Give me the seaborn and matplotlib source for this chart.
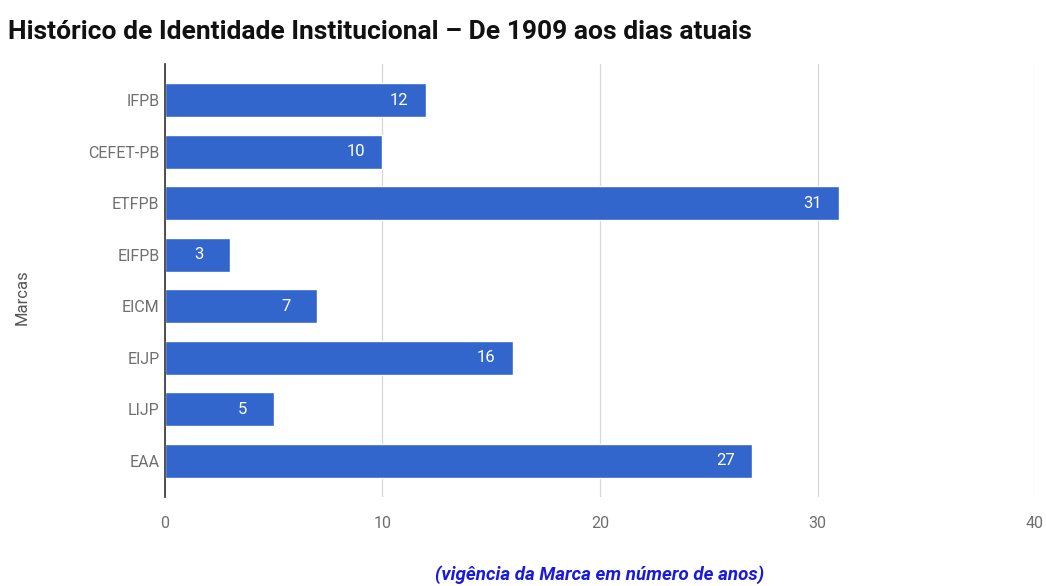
import matplotlib
matplotlib.use("Agg")
import matplotlib.pyplot as plt
import seaborn as sns
import pandas as pd

categories = ["IFPB", "CEFET-PB", "ETFPB", "EIFPB", "EICM", "EIJP", "LIJP", "EAA"]
values = [12, 10, 31, 3, 7, 16, 5, 27]
xticks = [0, 10, 20, 30, 40]

sns.set_theme(style="white")
plt.rcParams['font.family'] = ['Roboto', 'DejaVu Sans']

df = pd.DataFrame({"Marca": categories, "Anos": values})

fig = plt.figure(figsize=(10.46, 5.86), dpi=100)
ax = fig.add_axes([0.1577, 0.1519, 0.9895 - 0.1577, 0.8908 - 0.1519])

sns.barplot(data=df, x="Anos", y="Marca", color="#3366cc", saturation=1,
            width=0.66, ax=ax, zorder=3)

ax.set_xlim(0, 40)
ax.set_ylim(7.7, -0.7)
ax.set_xticks(xticks)
ax.set_xticklabels([str(t) for t in xticks])
ax.grid(axis="x", color="#d6d6d6", linewidth=0.9, zorder=0)
ax.grid(axis="y", visible=False)
for s in ["top", "right", "bottom"]:
    ax.spines[s].set_visible(False)
ax.spines["left"].set_color("#333333")
ax.spines["left"].set_linewidth(1.2)
ax.spines["left"].set_zorder(4)
ax.tick_params(axis="both", length=0, labelsize=11.5, labelcolor="#6f6f6f")
ax.tick_params(axis="x", pad=14)
ax.tick_params(axis="y", pad=4)

for cont in ax.containers:
    ax.bar_label(cont, labels=[str(v) for v in values], padding=-26,
                 color="white", fontsize=12)

ax.set_xlabel("(vigência da Marca em número de anos)", color="#1a1adc",
              fontsize=13.5, fontweight="bold", fontstyle="italic", labelpad=24)
ax.set_ylabel("Marcas", color="#555555", fontsize=12)
ax.yaxis.set_label_coords(-0.155, 0.462)

fig.text(0.0076, 0.945, "Histórico de Identidade Institucional – De 1909 aos dias atuais",
         fontsize=19, fontweight="bold", color="#111111", ha="left", va="center")

fig.savefig("out.png", dpi=100, facecolor="white")
